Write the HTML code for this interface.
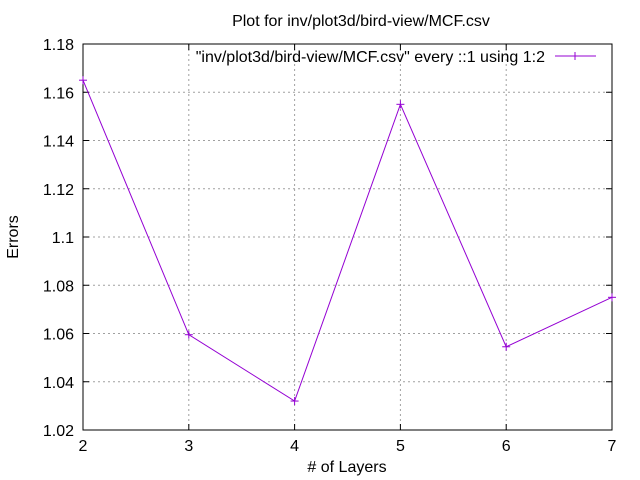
<!DOCTYPE html>
<html><head><meta charset="utf-8"><style>
body{margin:0;background:#fff;}
svg{display:block;font-family:"Liberation Sans",sans-serif;}
</style></head><body>
<svg id="chart" width="640" height="480">
<rect x="0" y="0" width="640" height="480" fill="#fff"/>
<text x="361" y="26" font-size="16" text-anchor="middle">Plot for inv/plot3d/bird-view/MCF.csv</text>
<text x="347" y="472" font-size="16" text-anchor="middle"># of Layers</text>
<text x="18" y="237" font-size="16" text-anchor="middle" transform="rotate(-90 18 237)">Errors</text>
<g id="grid"></g><g id="ticks"></g>
<rect x="83" y="44" width="529" height="386" fill="none" stroke="#000" stroke-width="1"/>
<g>
<text x="545" y="62" font-size="16" text-anchor="end">"inv/plot3d/bird-view/MCF.csv" every ::1 using 1:2</text>
<line x1="555" y1="56" x2="596" y2="56" stroke="#9400d3" stroke-width="1"/>
<line x1="575" y1="52" x2="575" y2="60" stroke="#9400d3"/><line x1="571" y1="56" x2="579" y2="56" stroke="#9400d3"/>
</g>
<g id="series"></g>
</svg>
<script>
const categories=[2,3,4,5,6,7];
const values=[1.165,1.0595,1.032,1.155,1.0545,1.075];
const xTicks=[2,3,4,5,6,7];
const yTicks=[1.02,1.04,1.06,1.08,1.1,1.12,1.14,1.16,1.18];
const yLabels=["1.02","1.04","1.06","1.08","1.1","1.12","1.14","1.16","1.18"];
const NS="http://www.w3.org/2000/svg";
const L=83,R=612,T=44,B=430;
const xs=v=>L+(v-2)/(7-2)*(R-L);
const ys=v=>B-(v-1.02)/(1.18-1.02)*(B-T);
function mk(t,a,p){const e=document.createElementNS(NS,t);for(const k in a)e.setAttribute(k,a[k]);p.appendChild(e);return e;}
const grid=document.getElementById('grid'),ticks=document.getElementById('ticks'),ser=document.getElementById('series');
yTicks.forEach((v,i)=>{const y=ys(v);
 if(i>0&&i<yTicks.length-1){const g=mk('line',{x1:L,x2:R,y1:y,y2:y,stroke:'#a0a0a0','stroke-dasharray':'2,3'},grid);
 
 }
 mk('line',{x1:L,x2:L+6,y1:y,y2:y,stroke:'#000'},ticks);mk('line',{x1:R,x2:R-6,y1:y,y2:y,stroke:'#000'},ticks);
 const t=mk('text',{x:L-9,y:y+6,'font-size':16,'text-anchor':'end'},ticks);t.textContent=yLabels[i];
 
 });
xTicks.forEach((v,i)=>{const x=xs(v);
 if(i>0&&i<xTicks.length-1){const g=mk('line',{x1:x,x2:x,y1:T,y2:B,stroke:'#a0a0a0','stroke-dasharray':'2,3'},grid);
 
 }
 mk('line',{x1:x,x2:x,y1:B,y2:B-6,stroke:'#000'},ticks);mk('line',{x1:x,x2:x,y1:T,y2:T+6,stroke:'#000'},ticks);
 const t=mk('text',{x:x,y:B+21,'font-size':16,'text-anchor':'middle'},ticks);t.textContent=v;
 
 });
const pts=categories.map((c,i)=>xs(c)+','+ys(values[i])).join(' ');
const pl=mk('polyline',{points:pts,fill:'none',stroke:'#9400d3','stroke-width':1},ser);


categories.forEach((c,i)=>{const x=xs(c),y=ys(values[i]);
 const g=mk('g',{},ser);
 
 
 mk('line',{x1:x-4,x2:x+4,y1:y,y2:y,stroke:'#9400d3'},g);mk('line',{x1:x,x2:x,y1:y-4,y2:y+4,stroke:'#9400d3'},g);});
</script>
</body></html>
